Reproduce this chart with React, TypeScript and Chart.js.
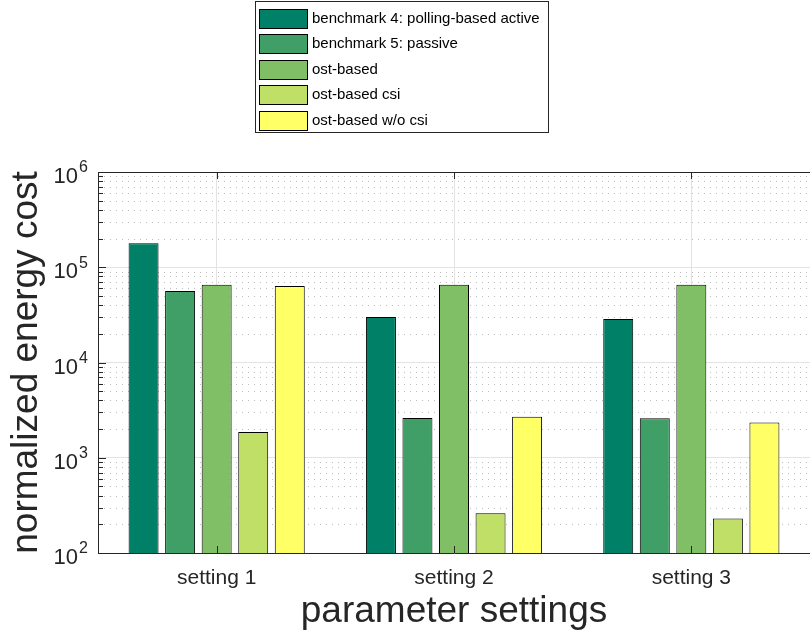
import React, { useEffect, useRef } from 'react';
import { Chart, registerables } from 'chart.js';

Chart.register(...registerables);

const categories = ['setting 1', 'setting 2', 'setting 3'];
const seriesNames = [
  'benchmark 4: polling-based active',
  'benchmark 5: passive',
  'ost-based',
  'ost-based csi',
  'ost-based w/o csi',
];
const bench4 = [179000, 30100, 28700];
const bench5 = [56400, 2620, 2600];
const ostBased = [65700, 65500, 65500];
const ostCsi = [1860, 262, 230];
const ostNoCsi = [63600, 2700, 2340];
const seriesColors = [
  'rgb(0,128,102)',
  'rgb(64,159,102)',
  'rgb(128,191,102)',
  'rgb(191,223,102)',
  'rgb(255,255,102)',
];
const yExponents = [2, 3, 4, 5, 6];
const yMin = 100;
const yMax = 1000000;

const FONT = "'Liberation Sans', Arial, Helvetica, sans-serif";
const AXIS_COLOR = '#262626';

const decorPlugin = {
  id: 'decor',
  beforeDatasetsDraw(chart: any) {
    const { ctx, chartArea: a } = chart;
    const y = chart.scales.y;
    ctx.save();
    ctx.strokeStyle = 'rgba(38,38,38,0.3)';
    ctx.lineWidth = 1;
    ctx.setLineDash([1, 5]);
    for (let i = 0; i < yExponents.length - 1; i++) {
      for (let m = 2; m <= 9; m++) {
        const py = Math.round(y.getPixelForValue(m * Math.pow(10, yExponents[i]))) + 0.5;
        ctx.beginPath();
        ctx.moveTo(a.left, py);
        ctx.lineTo(a.right, py);
        ctx.stroke();
      }
    }
    ctx.restore();
  },
  afterDatasetsDraw(chart: any) {
    const { ctx, chartArea: a } = chart;
    const y = chart.scales.y;
    const x = chart.scales.x;
    ctx.save();
    ctx.strokeStyle = AXIS_COLOR;
    ctx.lineWidth = 1;
    // top box line
    ctx.beginPath();
    ctx.moveTo(a.left, a.top + 0.5);
    ctx.lineTo(a.right, a.top + 0.5);
    ctx.stroke();
    // y tick marks (inward)
    for (let i = 0; i < yExponents.length; i++) {
      const e = yExponents[i];
      const py = Math.round(y.getPixelForValue(Math.pow(10, e))) + 0.5;
      ctx.beginPath();
      ctx.moveTo(a.left, py);
      ctx.lineTo(a.left + 8, py);
      ctx.stroke();
      if (i < yExponents.length - 1) {
        for (let m = 2; m <= 9; m++) {
          const pm = Math.round(y.getPixelForValue(m * Math.pow(10, e))) + 0.5;
          ctx.beginPath();
          ctx.moveTo(a.left, pm);
          ctx.lineTo(a.left + 5, pm);
          ctx.stroke();
        }
      }
    }
    // x tick marks (bottom and top, inward)
    for (let i = 0; i < categories.length; i++) {
      const px = Math.round(x.getPixelForValue(i)) + 0.5;
      ctx.beginPath();
      ctx.moveTo(px, a.bottom);
      ctx.lineTo(px, a.bottom - 7);
      ctx.moveTo(px, a.top);
      ctx.lineTo(px, a.top + 7);
      ctx.stroke();
    }
    // y tick labels 10^e
    ctx.fillStyle = AXIS_COLOR;
    ctx.textBaseline = 'middle';
    for (const e of yExponents) {
      const py = y.getPixelForValue(Math.pow(10, e));
      ctx.font = `22px ${FONT}`;
      ctx.textAlign = 'right';
      ctx.fillText('10', 78, py + 5);
      ctx.font = `16px ${FONT}`;
      ctx.textAlign = 'left';
      ctx.fillText(String(e), 79, py - 4);
    }
    ctx.restore();
  },
  afterDraw(chart: any) {
    const { ctx } = chart;
    ctx.save();
    const bx = 255.5, by = 1.5, bw = 293, bh = 131;
    ctx.fillStyle = '#ffffff';
    ctx.fillRect(bx, by, bw, bh);
    ctx.strokeStyle = AXIS_COLOR;
    ctx.lineWidth = 1;
    ctx.strokeRect(bx, by, bw, bh);
    ctx.font = `15px ${FONT}`;
    ctx.textBaseline = 'middle';
    ctx.textAlign = 'left';
    for (let i = 0; i < seriesNames.length; i++) {
      const sy = 8.5 + i * 25.5;
      ctx.fillStyle = seriesColors[i];
      ctx.fillRect(259.5, Math.round(sy) + 0.5, 48, 19);
      ctx.strokeStyle = '#000';
      ctx.strokeRect(259.5, Math.round(sy) + 0.5, 48, 19);
      ctx.fillStyle = '#000';
      ctx.fillText(seriesNames[i], 312, Math.round(sy) + 10);
    }
    ctx.restore();
  },
};

export default function App() {
  const ref = useRef<HTMLCanvasElement | null>(null);
  useEffect(() => {
    if (!ref.current) return;
    const seriesData = [bench4, bench5, ostBased, ostCsi, ostNoCsi];
    const chart = new Chart(ref.current, {
      type: 'bar',
      data: {
        labels: categories,
        datasets: seriesNames.map((name, i) => ({
          label: name,
          data: seriesData[i],
          backgroundColor: seriesColors[i],
          borderColor: '#000000',
          borderWidth: 1,
          categoryPercentage: 0.77,
          barPercentage: 0.82,
        })),
      },
      options: {
        responsive: false,
        animation: false,
        devicePixelRatio: 1,
        layout: { padding: { top: 172, left: 0, right: -2, bottom: 0 } },
        plugins: {
          legend: { display: false },
          tooltip: { enabled: false },
        },
        scales: {
          x: {
            type: 'category',
            grid: { offset: false, color: '#e3e3e3', drawTicks: false },
            border: { display: true, color: AXIS_COLOR, width: 1 },
            ticks: {
              color: AXIS_COLOR,
              font: { family: FONT, size: 21 },
              padding: 13,
              maxRotation: 0,
            },
            title: {
              display: true,
              text: 'parameter settings',
              color: AXIS_COLOR,
              font: { family: FONT, size: 37 },
              padding: { top: 0, bottom: 0 },
            },
            afterFit: (s: any) => {
              s.height = 81;
            },
          },
          y: {
            type: 'logarithmic',
            min: yMin,
            max: yMax,
            afterBuildTicks: (s: any) => {
              s.ticks = yExponents.map((e) => ({ value: Math.pow(10, e) }));
            },
            grid: { color: '#e3e3e3', drawTicks: false },
            border: { display: true, color: AXIS_COLOR, width: 1 },
            ticks: { display: false },
            title: {
              display: true,
              text: 'normalized energy cost',
              color: AXIS_COLOR,
              font: { family: FONT, size: 37 },
              padding: { top: 5, bottom: 0 },
            },
            afterFit: (s: any) => {
              s.width = 98;
            },
          },
        },
      },
      plugins: [decorPlugin],
    });
    return () => chart.destroy();
  }, []);
  return (
    <div style={{ position: 'fixed', left: 0, top: 0, width: 810, height: 634, background: '#fff' }}>
      <canvas ref={ref} width={810} height={634} />
    </div>
  );
}
